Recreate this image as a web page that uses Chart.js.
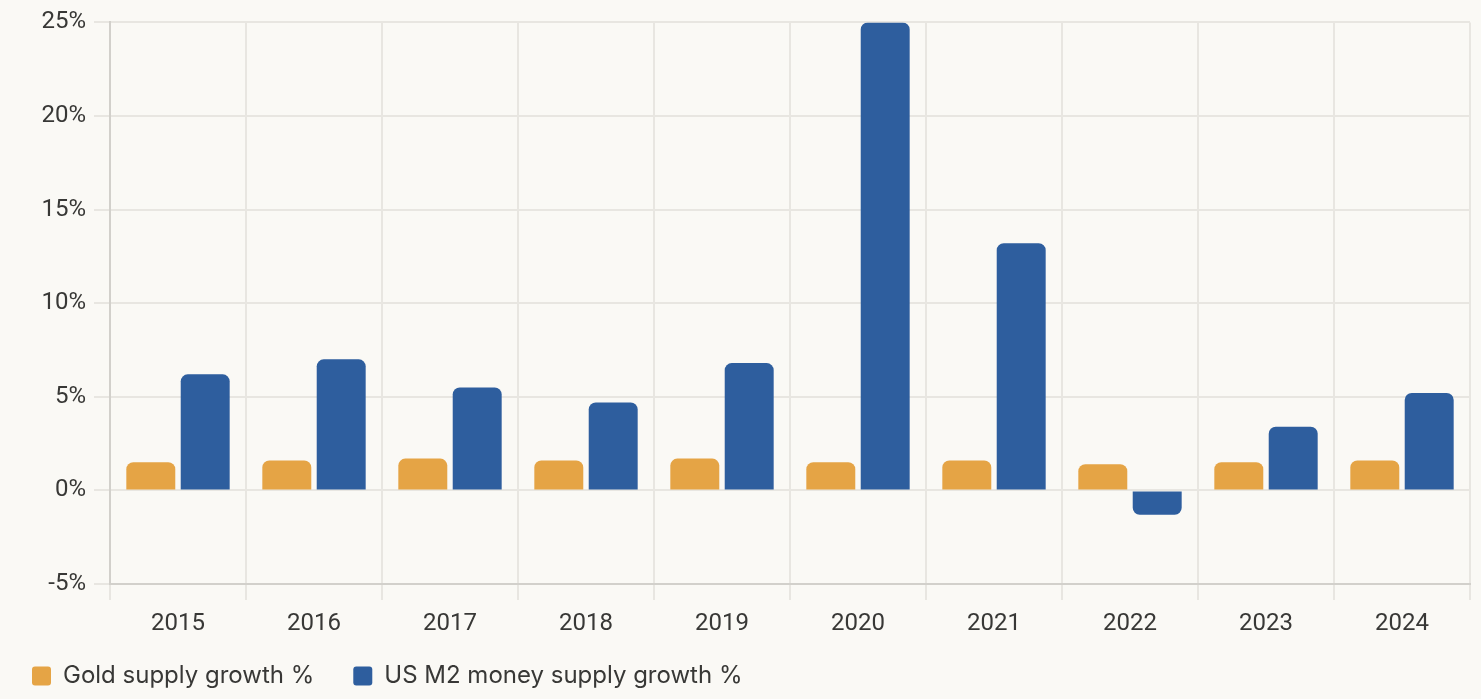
<!DOCTYPE html>
<html>
<head>
<meta charset="utf-8">
<script src="https://cdn.jsdelivr.net/npm/chart.js@4/dist/chart.umd.min.js"></script>
<style>
  html, body { margin: 0; padding: 0; background: #faf9f5; overflow: hidden; }
  #wrap { position: absolute; left: -7px; top: 0; width: 1488px; height: 699px; }
</style>
</head>
<body>
<div id="wrap"><canvas id="supplyChart"></canvas></div>
<script>
// Values
const years = ['2015', '2016', '2017', '2018', '2019', '2020', '2021', '2022', '2023', '2024'];
const goldGrowth = [1.5, 1.6, 1.7, 1.6, 1.7, 1.5, 1.6, 1.4, 1.5, 1.6];
const m2Growth = [6.2, 7.0, 5.5, 4.7, 6.8, 25.0, 13.2, -1.3, 3.4, 5.2];
const yTicks = [-5, 0, 5, 10, 15, 20, 25];

const textColor = '#383836';
const gridColor = '#e8e6e1';
const axisColor = '#d2d0cb';

// legend sits a bit higher than chart.js would put it
const liftLegend = {
    id: 'liftLegend',
    afterLayout: function (chart) {
        chart.legend.top -= 8;
        chart.legend.bottom -= 8;
    }
};

var ctx = document.getElementById('supplyChart').getContext('2d');
new Chart(ctx, {
    type: 'bar',
    data: {
        labels: years,
        datasets: [{
            label: 'Gold supply growth %',
            data: goldGrowth,
            backgroundColor: '#e5a445',
            borderRadius: 7,
            categoryPercentage: 0.8,
            barPercentage: 0.9
        }, {
            label: 'US M2 money supply growth %',
            data: m2Growth,
            backgroundColor: '#2e5e9e',
            borderRadius: 7,
            categoryPercentage: 0.8,
            barPercentage: 0.9
        }]
    },
    options: {
        responsive: true,
        maintainAspectRatio: false,
        animation: false,
        layout: {
            padding: { top: 21, right: 11, bottom: -7, left: 0 }
        },
        scales: {
            x: {
                grid: { color: gridColor, lineWidth: 2, tickLength: 16, offset: true },
                border: { color: axisColor, width: 2 },
                ticks: {
                    color: textColor,
                    padding: 10,
                    font: { family: 'Roboto', size: 24 }
                },
                afterFit: function (scale) { scale.height = 49; }
            },
            y: {
                min: yTicks[0],
                max: yTicks[yTicks.length - 1],
                afterBuildTicks: function (scale) {
                    scale.ticks = yTicks.map(function (v) { return { value: v }; });
                },
                grid: { color: gridColor, lineWidth: 2, tickLength: 16 },
                border: { color: axisColor, width: 2 },
                ticks: {
                    color: textColor,
                    padding: 8,
                    font: { family: 'Roboto', size: 24 },
                    callback: function (v) { return v + '%'; }
                },
                afterFit: function (scale) { scale.width = 117; }
            }
        },
        plugins: {
            legend: {
                position: 'bottom',
                align: 'start',
                labels: {
                    color: textColor,
                    boxWidth: 19,
                    boxHeight: 19,
                    useBorderRadius: true,
                    borderRadius: 3,
                    padding: 39,
                    font: { family: 'Inter', size: 24 }
                }
            },
            tooltip: { enabled: false }
        }
    },
    plugins: [liftLegend]
});
</script>
</body>
</html>
